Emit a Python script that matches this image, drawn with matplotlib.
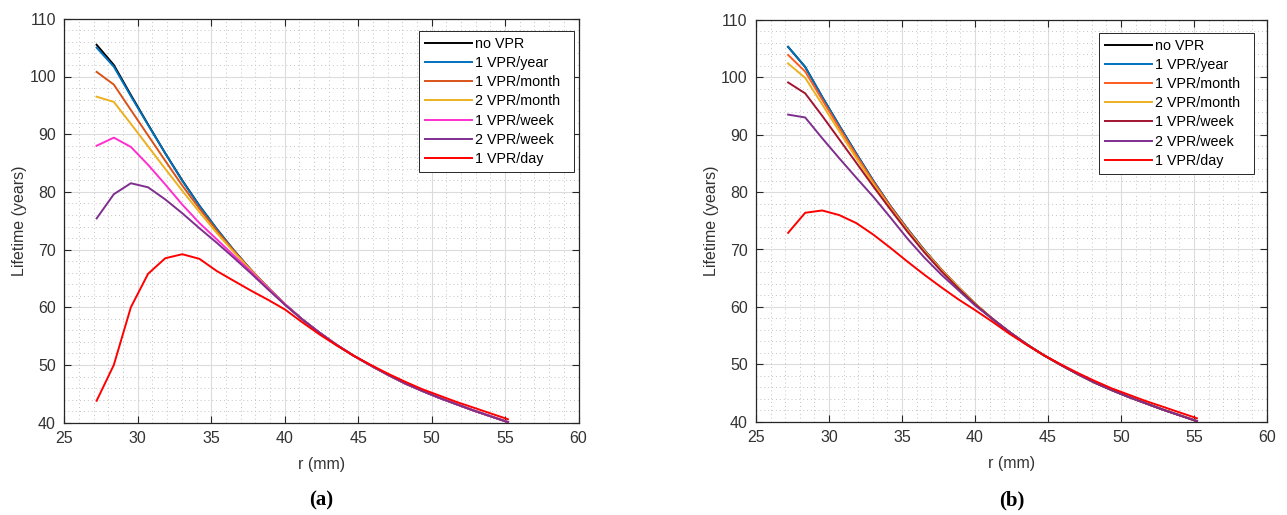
import matplotlib
matplotlib.use("Agg")
import matplotlib.pyplot as plt
from matplotlib.ticker import MultipleLocator

plt.rcParams['font.family'] = ['Liberation Sans', 'DejaVu Sans']

# radius values (mm)
r = [27.2, 28.37, 29.53, 30.7, 31.87, 33.03, 34.2, 35.37, 36.53, 37.7, 38.87, 40.03,
     41.2, 42.37, 43.53, 44.7, 45.87, 47.03, 48.2, 49.37, 50.53, 51.7, 52.87, 54.03, 55.2]

# shared tail of the curves (r >= 41.2)
tail_main = [57.9, 55.6, 53.5, 51.6, 49.9, 48.3, 46.8, 45.5, 44.3, 43.2, 42.1, 41.1, 40.1]
tail_day = [57.4, 55.3, 53.4, 51.6, 50.0, 48.5, 47.1, 45.8, 44.7, 43.6, 42.6, 41.6, 40.6]

# ---- panel (a) ----
a_no_vpr = [105.5, 102.0, 96.8, 91.7, 86.7, 82.0, 77.6, 73.6, 69.9, 66.5, 63.4, 60.5] + tail_main
a_year = [105.0, 101.7, 96.6, 91.6, 86.7, 81.9, 77.6, 73.6, 69.9, 66.5, 63.4, 60.5] + tail_main
a_month = [100.8, 98.6, 94.2, 89.8, 85.4, 81.1, 77.1, 73.3, 69.8, 66.5, 63.4, 60.5] + tail_main
a_2month = [96.5, 95.6, 91.8, 87.9, 84.0, 80.2, 76.5, 72.9, 69.6, 66.4, 63.4, 60.5] + tail_main
a_week = [88.0, 89.4, 87.8, 84.7, 81.3, 77.8, 74.6, 71.8, 69.0, 66.2, 63.3, 60.5] + tail_main
a_2week = [75.4, 79.6, 81.5, 80.8, 78.7, 76.3, 73.7, 71.2, 68.6, 65.9, 63.1, 60.4] + tail_main
a_day = [43.8, 50.0, 60.0, 65.8, 68.5, 69.2, 68.4, 66.3, 64.6, 62.9, 61.3, 59.6] + tail_day

# ---- panel (b) ----
b_no_vpr = [105.3, 101.8, 96.6, 91.6, 86.7, 82.0, 77.6, 73.6, 69.9, 66.5, 63.4, 60.5] + tail_main
b_year = [105.3, 101.8, 96.6, 91.6, 86.7, 82.0, 77.6, 73.6, 69.9, 66.5, 63.4, 60.5] + tail_main
b_month = [103.9, 101.0, 96.1, 91.2, 86.4, 81.8, 77.5, 73.5, 69.8, 66.5, 63.4, 60.5] + tail_main
b_2month = [102.4, 99.9, 95.3, 90.6, 85.9, 81.4, 77.2, 73.3, 69.7, 66.4, 63.4, 60.5] + tail_main
b_week = [99.1, 97.2, 93.3, 89.2, 85.1, 81.0, 77.0, 73.1, 69.5, 66.2, 63.2, 60.4] + tail_main
b_2week = [93.5, 93.0, 89.4, 85.9, 82.5, 79.2, 75.6, 71.9, 68.6, 65.6, 62.9, 60.2] + tail_main
b_day = [72.9, 76.4, 76.8, 76.0, 74.6, 72.6, 70.3, 67.9, 65.6, 63.4, 61.3, 59.4] + tail_day

labels = ['no VPR', '1 VPR/year', '1 VPR/month', '2 VPR/month', '1 VPR/week', '2 VPR/week', '1 VPR/day']
colors_a = ['#000000', '#0072BD', '#D95319', '#EDB120', '#FF2ECF', '#7E2F8E', '#FF0000']
colors_b = ['#000000', '#0072BD', '#FF5A1F', '#EDB120', '#A2142F', '#7E2F8E', '#FF0000']

W, H = 1287, 515
fig = plt.figure(figsize=(W / 100, H / 100), dpi=100)

axA = fig.add_axes([64.3 / W, 1 - 422.7 / H, 514.2 / W, 403.9 / H])
axB = fig.add_axes([756.0 / W, 1 - 421.7 / H, 511.0 / W, 401.8 / H])

panels = [
    (axA, [a_no_vpr, a_year, a_month, a_2month, a_week, a_2week, a_day], colors_a, (0.991, 0.970)),
    (axB, [b_no_vpr, b_year, b_month, b_2month, b_week, b_2week, b_day], colors_b, (0.975, 0.968)),
]

dark = '#262626'
for ax, series, cols, anchor in panels:
    for ys, c, lab in zip(series, cols, labels):
        ax.plot(r, ys, color=c, lw=1.4, label=lab + '  ')
    ax.set_xlim(25, 60)
    ax.set_ylim(40, 110)
    ax.xaxis.set_major_locator(MultipleLocator(5))
    ax.yaxis.set_major_locator(MultipleLocator(10))
    ax.xaxis.set_minor_locator(MultipleLocator(1))
    ax.yaxis.set_minor_locator(MultipleLocator(2))
    ax.grid(True, which='major', color='#dcdcdc', lw=0.8, ls='-')
    ax.grid(True, which='minor', color='#c4c4c4', lw=0.7, ls=(0, (1, 3)))
    ax.set_axisbelow(True)
    ax.tick_params(which='major', direction='in', length=5, width=0.8, top=True, right=True,
                   labelsize=11.5, colors=dark, labelcolor='#333333', pad=6)
    ax.tick_params(which='minor', length=0)
    for s in ax.spines.values():
        s.set_color(dark)
        s.set_linewidth(0.9)
    ax.set_xlabel('r (mm)', fontsize=11.5, color='#333333', labelpad=8)
    ax.set_ylabel('Lifetime (years)', fontsize=11.5, color='#333333', labelpad=1.5)
    leg = ax.legend(loc='upper right', bbox_to_anchor=anchor, borderaxespad=0, fontsize=10.3,
                    handlelength=3.3, handletextpad=0.2, labelspacing=0.36,
                    borderpad=0.42, fancybox=False, framealpha=1, edgecolor=dark)
    leg.get_frame().set_linewidth(0.7)
    for t in leg.get_texts():
        t.set_color('#000000')

fig.text(321 / W, 1 - 500 / H, '(a)', ha='center', va='center', fontsize=15,
         fontweight='bold', family=['Liberation Serif', 'DejaVu Serif'])
fig.text(1012 / W, 1 - 500 / H, '(b)', ha='center', va='center', fontsize=15,
         fontweight='bold', family=['Liberation Serif', 'DejaVu Serif'])

fig.savefig('out.png', dpi=100)
